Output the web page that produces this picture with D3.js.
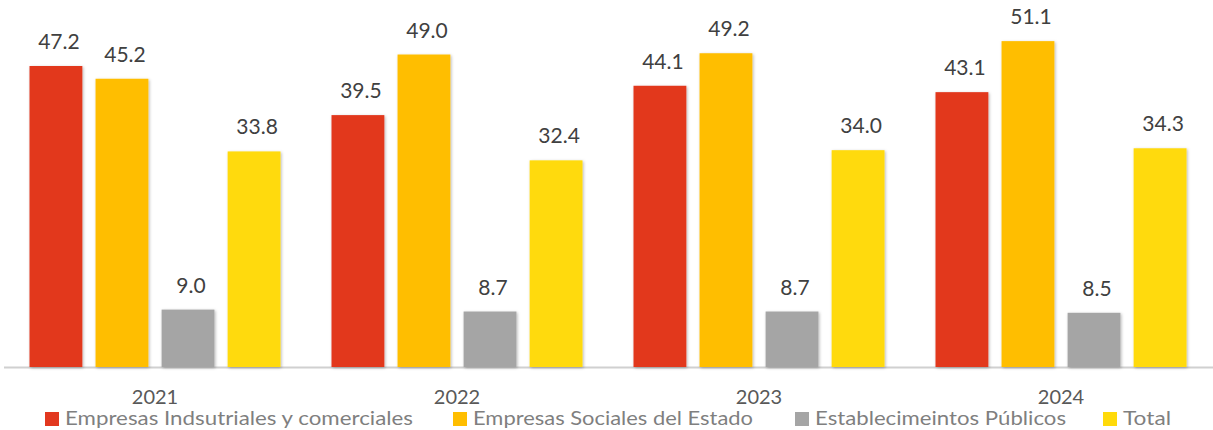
<!DOCTYPE html>
<html>
<head>
<meta charset="utf-8">
<script src="https://cdn.jsdelivr.net/npm/d3@7"></script>
<style>
  html, body { margin: 0; padding: 0; background: #fff; }
  svg { display: block; font-family: Lato, "Open Sans", sans-serif; }
</style>
</head>
<body>
<svg id="chart" width="1213" height="430"></svg>
<script>
const years = ["2021", "2022", "2023", "2024"];
const seriesNames = [
  "Empresas Indsutriales y comerciales",
  "Empresas Sociales del Estado",
  "Establecimeintos Públicos",
  "Total"
];
const industriales = [47.2, 39.5, 44.1, 43.1];
const sociales = [45.2, 49.0, 49.2, 51.1];
const establecimientos = [9.0, 8.7, 8.7, 8.5];
const total = [33.8, 32.4, 34.0, 34.3];
const seriesColors = ["#E2381F", "#FFBE00", "#A5A5A5", "#FFDA0A"];

const seriesValues = [industriales, sociales, establecimientos, total];

const svg = d3.select("#chart");
const baseY = 367;

const defs = svg.append("defs");
const shadow = defs.append("filter").attr("id", "barShadow")
  .attr("x", "-20%").attr("y", "-10%").attr("width", "140%").attr("height", "120%");
shadow.append("feDropShadow").attr("dx", 1).attr("dy", 1).attr("stdDeviation", 1.6)
  .attr("flood-color", "#000").attr("flood-opacity", 0.28);

const x0 = d3.scaleBand().domain(years).range([4, 1212]).paddingInner(0).paddingOuter(0);
const x1 = d3.scaleBand().domain(d3.range(4)).range([25.5, 302 - 25.5]).paddingInner(0.2).paddingOuter(0);
const y = d3.scaleLinear().domain([0, 47.2]).range([baseY, 66]);

// axis baseline
svg.append("line")
  .attr("x1", 4).attr("x2", 1213).attr("y1", baseY + 0.5).attr("y2", baseY + 0.5)
  .attr("stroke", "#D0D0D0").attr("stroke-width", 2);

const groups = svg.append("g").selectAll("g")
  .data(years).join("g")
  .attr("transform", d => `translate(${x0(d)},0)`);

groups.each(function(year, yi) {
  const g = d3.select(this);
  seriesValues.forEach((vals, si) => {
    const v = vals[yi];
    g.append("rect")
      .attr("x", x1(si))
      .attr("y", y(v))
      .attr("width", x1.bandwidth())
      .attr("height", baseY - y(v))
      .attr("fill", seriesColors[si])
      .attr("filter", "url(#barShadow)");
    g.append("text")
      .attr("x", x1(si) + x1.bandwidth() / 2 + 3)
      .attr("y", y(v) - 17)
      .attr("text-anchor", "middle")
      .attr("font-size", 21)
      .attr("fill", "#404040")
      .text(d3.format(".1f")(v));
  });
});

// category axis labels
const xAxis = d3.axisBottom(x0).tickSize(0).tickPadding(0);
const axisG = svg.append("g").attr("transform", `translate(0,${baseY + 37})`).call(xAxis);
axisG.select(".domain").remove();
axisG.selectAll("text")
  .attr("dy", 0)
  .attr("font-size", 20)
  .attr("font-family", "Lato, 'Open Sans', sans-serif")
  .attr("fill", "#595959");

// legend
const legendX = [45, 453, 795, 1103];
const legendTextWidth = [348, 280, 251, 48];
const legend = svg.append("g").selectAll("g")
  .data(seriesNames).join("g")
  .attr("transform", (d, i) => `translate(${legendX[i]},425)`);
legend.append("rect")
  .attr("x", 0).attr("y", -13).attr("width", 14).attr("height", 14)
  .attr("fill", (d, i) => seriesColors[i]);
legend.append("text")
  .attr("x", 20).attr("y", 0)
  .attr("font-size", 19)
  .attr("fill", "#7F7F7F")
  .attr("textLength", (d, i) => legendTextWidth[i])
  .attr("lengthAdjust", "spacingAndGlyphs")
  .text(d => d);
</script>
</body>
</html>
